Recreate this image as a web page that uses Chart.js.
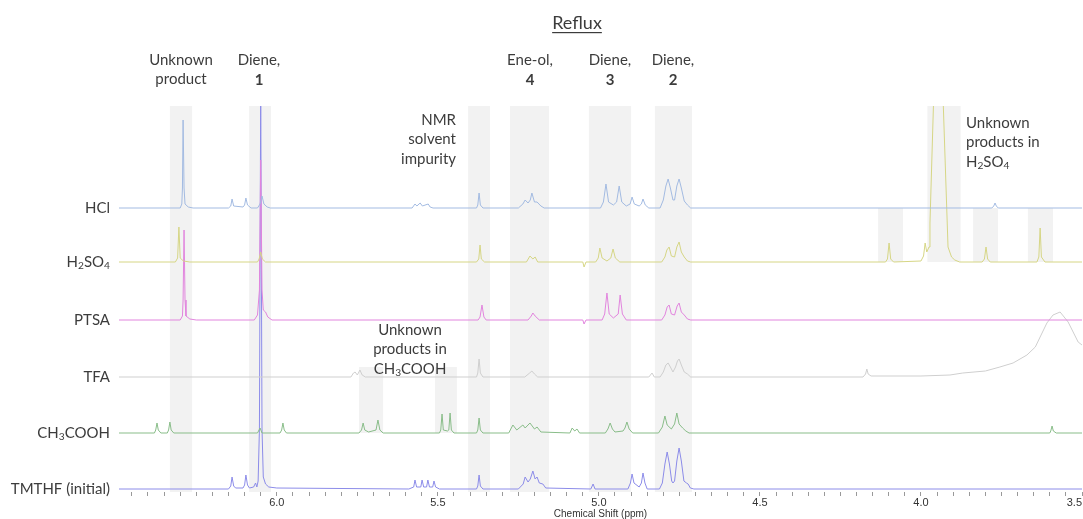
<!DOCTYPE html>
<html><head><meta charset="utf-8">
<script src="https://cdn.jsdelivr.net/npm/chart.js@4.4.0/dist/chart.umd.min.js"></script>
<style>html,body{margin:0;padding:0;background:#fff;}canvas{display:block;}</style>
</head><body>
<canvas id="c" width="1083" height="519"></canvas>
<script>
// ---------- data ----------
const seriesNames = ['HCl', 'H2SO4', 'PTSA', 'TFA', 'CH3COOH', 'TMTHF (initial)'];
const seriesOffsets = [284, 230, 172, 115, 59, 3];
const tickLabels = ['6.0', '5.5', '5.0', '4.5', '4.0', '3.5'];

// [ppm, intensity]
const hclSpectrum = [
  [6.49,0],[6.30,0],[6.295,4],[6.293,20],[6.291,88],[6.288,20],[6.285,4],[6.275,1],[6.26,0],
  [6.15,0],[6.143,2],[6.139,9],[6.134,2],[6.105,1],[6.10,3],[6.096,10],[6.091,3],[6.08,0],
  [6.06,0],[6.052,4],[6.046,12],[6.04,4],[6.03,1],[6.02,0],
  [5.58,0],[5.571,4],[5.565,2],[5.555,5],[5.548,2],[5.53,4],[5.524,1],[5.515,0],
  [5.38,0],[5.376,3],[5.372,15],[5.368,3],[5.36,0],
  [5.25,0],[5.236,4],[5.229,8],[5.22,5],[5.213,8],[5.208,15],[5.20,6],[5.192,6],[5.18,2],[5.17,0],
  [4.995,0],[4.986,6],[4.978,24],[4.97,6],[4.955,3],[4.945,6],[4.937,22],[4.929,6],[4.915,2],
  [4.903,4],[4.897,11],[4.89,4],[4.875,2],[4.868,4],[4.863,9],[4.856,3],[4.845,0],
  [4.81,0],[4.80,8],[4.792,22],[4.785,29],[4.778,20],[4.77,8],[4.765,8],[4.758,22],[4.751,29],[4.744,20],[4.735,7],[4.725,3],[4.715,0],
  [3.78,0],[3.774,2],[3.77,5],[3.766,2],[3.76,0],[3.50,0]
];
const h2so4Spectrum = [
  [6.49,0],[6.315,0],[6.308,4],[6.304,35],[6.30,4],[6.29,1],[6.27,0],
  [6.06,0],[6.055,3],[6.05,10],[6.045,3],[6.035,0],
  [5.38,0],[5.373,3],[5.369,17],[5.365,3],[5.355,0],
  [5.225,0],[5.214,6],[5.205,3],[5.198,5],[5.19,0],
  [5.05,0],[5.046,-5],[5.04,0],
  [5.01,0],[5.002,4],[4.997,14],[4.99,4],[4.975,1],[4.963,4],[4.956,13],[4.949,4],[4.935,0],
  [4.805,0],[4.795,5],[4.789,12],[4.782,15],[4.775,6],[4.765,5],[4.758,15],[4.751,20],[4.744,10],[4.735,5],[4.725,1],[4.715,0],
  [4.11,0],[4.104,3],[4.099,19],[4.094,3],[4.085,0],
  [4.00,1],[3.992,6],[3.987,19],[3.982,10],[3.975,15],[3.972,39],[3.96,170],[3.947,400],[3.932,170],[3.916,15],[3.905,5],[3.895,2],[3.88,0],
  [3.81,0],[3.803,3],[3.798,15],[3.793,3],[3.785,0],
  [3.64,0],[3.634,5],[3.63,34],[3.626,5],[3.615,0],[3.50,0]
];
const ptsaSpectrum = [
  [6.49,0],[6.30,0],[6.293,4],[6.291,20],[6.288,90],[6.285,20],[6.282,4],[6.27,1],[6.25,0],
  [6.07,0],[6.06,5],[6.054,30],[6.05,160],[6.046,30],[6.042,10],[6.035,8],[6.028,3],[6.015,0],
  [5.375,0],[5.369,3],[5.363,15],[5.357,3],[5.35,0],
  [5.22,0],[5.21,4],[5.205,7],[5.198,4],[5.185,0],
  [5.05,0],[5.046,-4],[5.04,0],
  [4.99,0],[4.982,6],[4.975,27],[4.968,6],[4.955,2],[4.94,6],[4.934,25],[4.927,6],[4.915,0],
  [4.805,0],[4.795,5],[4.788,13],[4.782,15],[4.775,6],[4.765,5],[4.757,14],[4.751,17],[4.744,8],[4.735,5],[4.725,1],[4.715,0],
  [3.50,0]
];
const tfaSpectrum = [
  [6.49,0],[5.77,0],[5.762,4],[5.757,5],[5.75,2],[5.742,7],[5.735,2],[5.725,0],
  [5.38,0],[5.376,4],[5.372,18],[5.368,4],[5.36,0],
  [5.23,0],[5.215,4],[5.208,6],[5.20,3],[5.19,0],
  [4.845,0],[4.835,4],[4.828,0],
  [4.81,0],[4.80,5],[4.792,12],[4.785,14],[4.778,10],[4.77,5],[4.762,10],[4.756,16],[4.751,18],[4.744,12],[4.735,5],[4.725,3],[4.715,0],
  [4.18,0],[4.172,3],[4.168,8],[4.164,3],[4.155,1],
  [4.00,1],[3.91,2],[3.87,4],[3.80,6],[3.755,10],[3.714,14],[3.671,22],[3.645,30],[3.63,40],[3.609,54],[3.59,62],[3.568,65],[3.543,55],[3.512,35],[3.50,32]
];
const ch3coohSpectrum = [
  [6.49,0],[6.38,0],[6.376,3],[6.372,10],[6.368,3],[6.36,0],[6.34,0],[6.336,3],[6.332,11],[6.328,3],[6.32,0],
  [6.06,0],[6.052,5],[6.046,0],
  [5.99,0],[5.985,3],[5.981,10],[5.977,3],[5.97,0],
  [5.745,0],[5.737,3],[5.732,10],[5.727,3],[5.715,1],[5.692,3],[5.686,13],[5.68,3],[5.67,0],
  [5.495,0],[5.491,3],[5.487,19],[5.483,3],[5.47,2],[5.466,3],[5.462,20],[5.458,3],[5.45,0],
  [5.38,0],[5.376,3],[5.372,15],[5.368,3],[5.36,0],
  [5.28,0],[5.267,8],[5.255,3],[5.236,8],[5.229,5],[5.214,10],[5.20,4],[5.192,6],[5.18,1],
  [5.09,0],[5.083,5],[5.075,2],[5.068,4],[5.06,0],
  [4.98,0],[4.972,4],[4.965,10],[4.958,4],[4.95,1],[4.925,2],[4.919,5],[4.913,11],[4.906,4],[4.895,0],
  [4.815,0],[4.803,6],[4.795,17],[4.788,8],[4.775,4],[4.765,9],[4.758,20],[4.751,9],[4.74,5],[4.73,2],[4.72,0],
  [3.60,0],[3.597,2],[3.593,7],[3.589,2],[3.58,0],[3.50,0]
];
const tmthfSpectrum = [
  [6.49,0],[6.15,0],[6.143,3],[6.139,12],[6.134,3],[6.128,1],[6.105,1],[6.10,4],[6.096,14],[6.091,4],[6.085,1],
  [6.072,2],[6.066,6],[6.062,2],[6.058,8],[6.054,60],[6.05,400],[6.046,60],[6.042,12],[6.035,5],[6.025,2],[6.00,1],
  [5.59,0],[5.575,2],[5.571,9],[5.566,2],[5.553,2],[5.549,9],[5.544,2],[5.535,2],[5.531,9],[5.526,2],[5.516,2],[5.512,8],[5.507,2],[5.495,0],
  [5.38,0],[5.376,3],[5.372,14],[5.368,3],[5.36,0],
  [5.25,0],[5.235,5],[5.229,12],[5.22,7],[5.213,10],[5.205,18],[5.198,10],[5.192,12],[5.185,6],[5.174,5],[5.165,1],
  [5.025,0],[5.018,5],[5.012,0],
  [4.91,0],[4.902,6],[4.897,15],[4.891,6],[4.875,2],[4.868,6],[4.863,16],[4.857,6],[4.85,0],
  [4.812,0],[4.803,6],[4.795,25],[4.788,37],[4.781,25],[4.774,8],[4.77,6],[4.765,8],[4.758,28],[4.751,41],[4.744,28],[4.736,8],[4.728,6],[4.723,5],[4.716,1],[4.705,0],
  [3.50,0]
];
const spectra = [hclSpectrum, h2so4Spectrum, ptsaSpectrum, tfaSpectrum, ch3coohSpectrum, tmthfSpectrum];

// shaded regions [ppm from, ppm to]
const fullBands = [[6.332,6.263],[6.086,6.018],[5.406,5.338],[5.276,5.155],[5.031,4.900],[4.826,4.711]];
const h2so4Bands = [[4.133,4.056],[3.838,3.761],[3.668,3.590]];
const h2so4TallBands = [[3.980,3.877]];
const ch3coohBands = [[5.745,5.670],[5.509,5.441]];

// ---------- style ----------
const seriesColors = ['#a3bbe2', '#d6d685', '#e285de', '#cfcfcf', '#89bd89', '#8c8ce9'];
const TXT = '#3c3c3c';
const LFONT = 'Lato, "Open Sans", sans-serif';

function drawRich(ctx, parts, x, y, size, align, weight) {
  const w = weight || 'normal';
  let total = 0;
  parts.forEach(p => {
    ctx.font = w + ' ' + (p[1] ? size * 0.68 : size) + 'px ' + LFONT;
    total += ctx.measureText(p[0]).width;
  });
  let cx = align === 'right' ? x - total : align === 'center' ? x - total / 2 : x;
  ctx.textAlign = 'left';
  ctx.textBaseline = 'middle';
  parts.forEach(p => {
    ctx.font = w + ' ' + (p[1] ? size * 0.68 : size) + 'px ' + LFONT;
    ctx.fillText(p[0], cx, p[1] ? y + size * 0.28 : y);
    cx += ctx.measureText(p[0]).width;
  });
}
const richNames = {
  'H2SO4': [['H',0],['2',1],['SO',0],['4',1]],
  'CH3COOH': [['CH',0],['3',1],['COOH',0]]
};

const bandPlugin = {
  id: 'bands',
  beforeDatasetsDraw(chart) {
    const {ctx, scales: {x, y}} = chart;
    ctx.save();
    ctx.fillStyle = '#f2f2f2';
    const rect = (p1, p2, v1, v2) => {
      const x1 = x.getPixelForValue(p1), x2 = x.getPixelForValue(p2);
      const y1 = y.getPixelForValue(v2), y2 = y.getPixelForValue(v1);
      ctx.fillRect(Math.min(x1, x2), y1, Math.abs(x2 - x1), y2 - y1);
    };
    fullBands.forEach(b => rect(b[0], b[1], y.min, y.max));
    h2so4TallBands.forEach(b => rect(b[0], b[1], seriesOffsets[1], y.max));
    h2so4Bands.forEach(b => rect(b[0], b[1], seriesOffsets[1], seriesOffsets[0]));
    ch3coohBands.forEach(b => rect(b[0], b[1], seriesOffsets[4], seriesOffsets[4] + 66));
    ctx.restore();
  }
};

const textPlugin = {
  id: 'texts',
  afterDraw(chart) {
    const {ctx, scales: {y}} = chart;
    ctx.save();
    ctx.fillStyle = TXT;
    seriesNames.forEach((n, i) => {
      const py = y.getPixelForValue(seriesOffsets[i]);
      drawRich(ctx, richNames[n] || [[n, 0]], 110, py, 15, 'right');
    });
    ctx.font = '18px ' + LFONT;
    ctx.textAlign = 'center';
    ctx.textBaseline = 'middle';
    ctx.fillText('Reflux', 577, 23);
    const tw = ctx.measureText('Reflux').width;
    ctx.fillRect(577 - tw / 2, 32, tw, 1.2);
    const lines = (arr, x, y0, align) => arr.forEach((l, i) => {
      const parts = Array.isArray(l) ? l : [[l, 0]];
      drawRich(ctx, parts, x, y0 + i * 19.5, 15, align);
    });
    lines(['Unknown', 'product'], 181, 60, 'center');
    lines(['Diene,'], 259, 60, 'center');
    lines(['Ene-ol,'], 530, 60, 'center');
    lines(['Diene,'], 610, 60, 'center');
    lines(['Diene,'], 673, 60, 'center');
    drawRich(ctx, [['1', 0]], 259, 80, 15, 'center', 'bold');
    drawRich(ctx, [['4', 0]], 530, 80, 15, 'center', 'bold');
    drawRich(ctx, [['3', 0]], 610, 80, 15, 'center', 'bold');
    drawRich(ctx, [['2', 0]], 673, 80, 15, 'center', 'bold');
    lines(['NMR', 'solvent', 'impurity'], 456, 120, 'right');
    lines(['Unknown', 'products in', richNames['H2SO4']], 966, 123, 'left');
    lines(['Unknown', 'products in', richNames['CH3COOH']], 410, 330, 'center');
    ctx.restore();
  }
};

const datasets = spectra.map((s, i) => ({
  label: seriesNames[i],
  data: s.map(p => ({x: p[0], y: p[1] + seriesOffsets[i]})),
  borderColor: seriesColors[i],
  borderWidth: 1,
  pointRadius: 0,
  tension: 0,
  fill: false
}));

new Chart(document.getElementById('c'), {
  type: 'line',
  data: {datasets},
  plugins: [bandPlugin, textPlugin],
  options: {
    responsive: false,
    animation: false,
    layout: {padding: {top: 106, left: 119, right: 1, bottom: 0}},
    plugins: {legend: {display: false}, tooltip: {enabled: false}},
    scales: {
      x: {
        type: 'linear', reverse: true, min: 3.5, max: 6.49,
        afterBuildTicks: (s) => {
          const t = [];
          for (let k = 70; k <= 129; k++) t.push({value: k / 20});
          s.ticks = t;
        },
        ticks: {
          autoSkip: false, maxRotation: 0, align: 'inner', padding: 1,
          color: '#333',
          font: {family: '"Liberation Sans", Arial, sans-serif', size: 11, lineHeight: 1},
          callback: (v) => {
            const s = Number(v).toFixed(1);
            return (Math.abs(v * 2 - Math.round(v * 2)) < 1e-6 && tickLabels.includes(s)) ? s : '';
          }
        },
        grid: {display: true, drawOnChartArea: false, drawTicks: true, tickLength: 4, color: '#999'},
        border: {display: false},
        title: {display: true, text: 'Chemical Shift (ppm)', color: '#333',
          font: {family: '"Liberation Sans", Arial, sans-serif', size: 10, lineHeight: 1},
          padding: {top: 0, bottom: 0}}
      },
      y: {display: false, min: 0, max: 386}
    }
  }
});
</script>
</body></html>
